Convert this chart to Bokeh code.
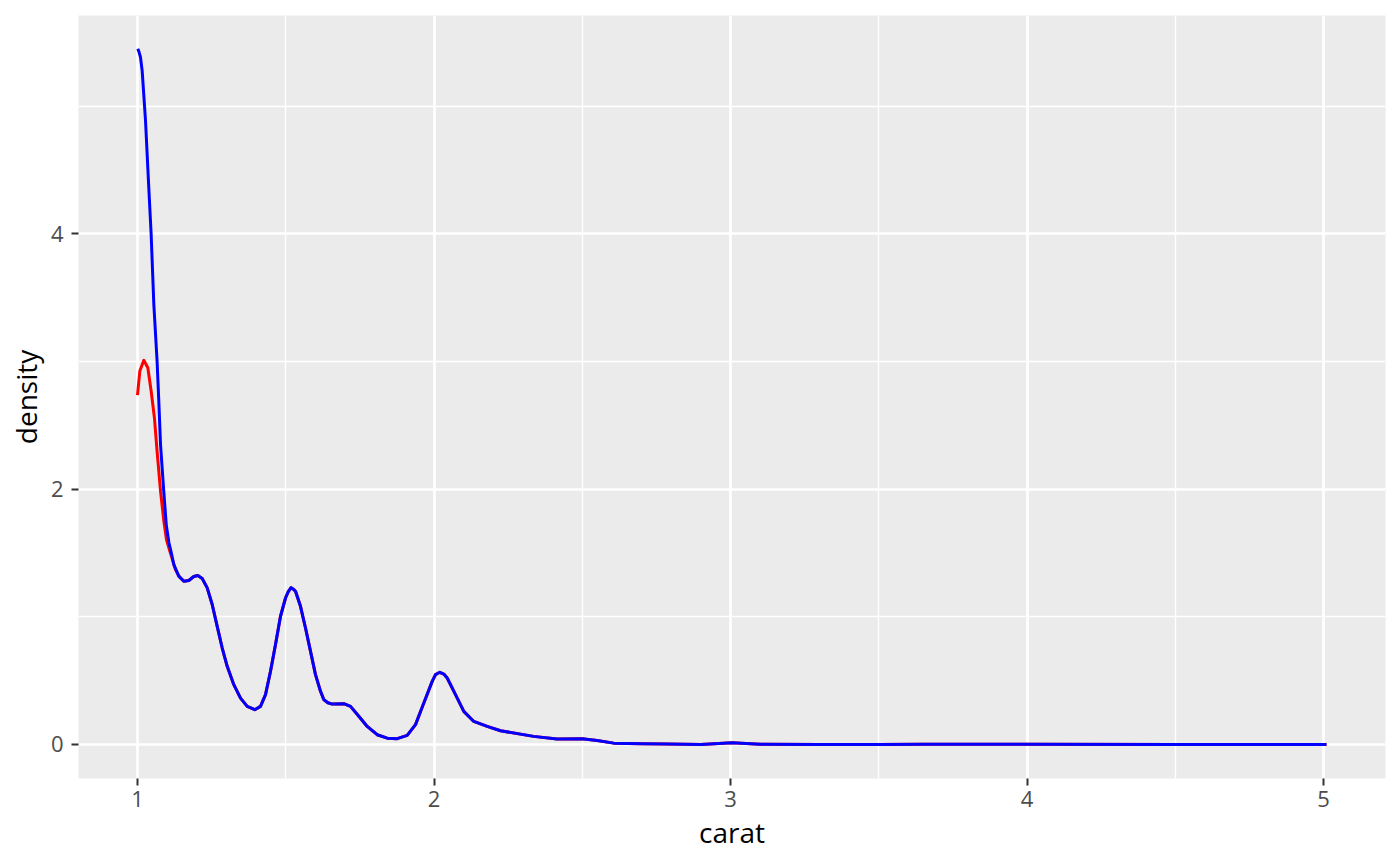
from bokeh.plotting import figure
from bokeh.models import FixedTicker, Range1d
from bokeh.embed import file_html
from bokeh.resources import INLINE

# Density curves of carat
blue_x = [1.001, 1.005, 1.010, 1.0157, 1.027, 1.038, 1.046, 1.055, 1.066, 1.0718, 1.0776,
          1.088, 1.097, 1.106, 1.114, 1.1224, 1.1393, 1.1562, 1.1730, 1.1899, 1.2034,
          1.2182, 1.2351, 1.2519, 1.2688, 1.2857, 1.3025, 1.3248, 1.3474, 1.3700, 1.3956,
          1.4148, 1.4317, 1.4486, 1.4654, 1.4823, 1.4992, 1.508, 1.518, 1.527, 1.5329,
          1.5497, 1.5666, 1.5835, 1.6003, 1.6172, 1.6283, 1.6420, 1.6567, 1.6958, 1.7184, 1.7464,
          1.7747, 1.8084, 1.8422, 1.8759, 1.9096, 1.9376, 1.9656, 1.9939, 2.005, 2.0196, 2.033, 2.0445,
          2.0725, 2.1005, 2.1342, 2.1794, 2.2243, 2.336, 2.415, 2.5, 2.55, 2.606,
          2.7, 2.786, 2.9, 3.005, 3.1, 3.3, 3.5, 3.65, 4.0, 4.5,
          5.01]
blue_y = [5.449, 5.425, 5.383, 5.278, 4.886, 4.363, 3.998, 3.449, 3.004, 2.690, 2.351,
          2.000, 1.720, 1.580, 1.500, 1.409, 1.318, 1.278, 1.284, 1.315, 1.323,
          1.300, 1.226, 1.096, 0.925, 0.755, 0.612, 0.468, 0.363, 0.298, 0.272,
          0.298, 0.390, 0.573, 0.782, 1.004, 1.147, 1.195, 1.228, 1.213, 1.200,
          1.082, 0.912, 0.729, 0.547, 0.416, 0.351, 0.326, 0.316, 0.319, 0.298, 0.220,
          0.141, 0.076, 0.049, 0.045, 0.071, 0.155, 0.324, 0.494, 0.547, 0.565, 0.551, 0.520,
          0.390, 0.259, 0.180, 0.141, 0.107, 0.063, 0.042, 0.045, 0.030, 0.010,
          0.005, 0.003, 0.000, 0.013, 0.001, 0.000, 0.000, 0.002, 0.002, 0.000,
          0.000]

red_head_x = [1.000, 1.0078, 1.0213, 1.0348, 1.046, 1.057, 1.066, 1.0776, 1.0888, 1.098,
              1.109, 1.128]
red_head_y = [2.737, 2.925, 3.009, 2.951, 2.769, 2.559, 2.298, 1.984, 1.750, 1.600,
              1.514, 1.370]

red_x = red_head_x + [x for x in blue_x if x > 1.135]
red_y = red_head_y + [y for x, y in zip(blue_x, blue_y) if x > 1.135]

x_ticks = [1, 2, 3, 4, 5]
x_minor = [1.5, 2.5, 3.5, 4.5]
y_ticks = [0, 2, 4]
y_minor = [1, 3, 5]

p = figure(width=1400, height=866, output_backend="svg", toolbar_location=None,
           x_range=Range1d(0.801, 5.209), y_range=Range1d(-0.267, 5.71),
           min_border_left=78, min_border_right=15, min_border_top=15, min_border_bottom=88)

p.background_fill_color = "#EBEBEB"
p.border_fill_color = "white"
p.outline_line_color = None

p.line(red_x, red_y, line_color="red", line_width=3, line_join="round")
p.line(blue_x, blue_y, line_color="blue", line_width=3, line_join="round")

p.xaxis.ticker = FixedTicker(ticks=x_ticks, minor_ticks=x_minor)
p.yaxis.ticker = FixedTicker(ticks=y_ticks, minor_ticks=y_minor)

for g in (p.xgrid[0], p.ygrid[0]):
    g.grid_line_color = "white"
    g.grid_line_width = 2.7
    g.minor_grid_line_color = "white"
    g.minor_grid_line_width = 1.4

for ax in (p.xaxis[0], p.yaxis[0]):
    ax.axis_line_color = None
    ax.major_tick_line_color = "#333333"
    ax.major_tick_line_width = 2
    ax.major_tick_out = 7
    ax.major_tick_in = 0
    ax.minor_tick_line_color = None
    ax.major_label_text_font = "Open Sans"
    ax.major_label_text_font_size = "22px"
    ax.major_label_text_color = "#4D4D4D"
    ax.axis_label_text_font = "Open Sans"
    ax.axis_label_text_font_size = "28px"
    ax.axis_label_text_font_style = "normal"
    ax.axis_label_text_color = "black"

p.xaxis.axis_label = "carat"
p.yaxis.axis_label = "density"
p.xaxis.major_label_standoff = 5
p.xaxis.axis_label_standoff = 3
p.yaxis.major_label_standoff = 8
p.yaxis.axis_label_standoff = 3

open("out.html", "w").write(file_html(p, INLINE))
